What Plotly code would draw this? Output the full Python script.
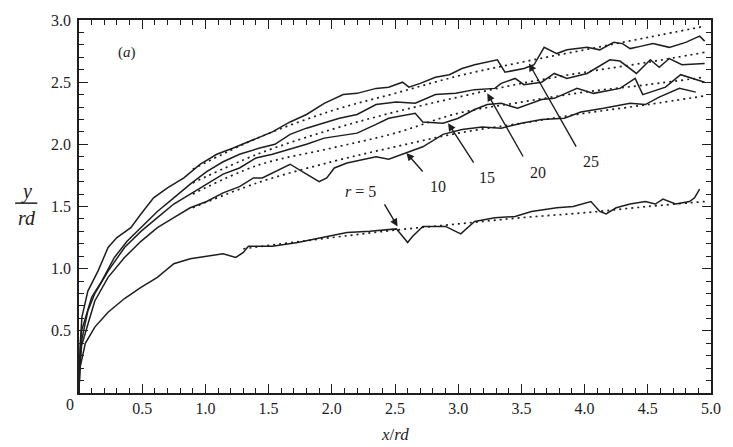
import plotly.graph_objects as go

INK = "#1e1e1e"
SERIF = "Liberation Serif"

# ---- solid (measured) trajectories ----
x25 = [0, 0.005, 0.01, 0.023, 0.07, 0.15, 0.23, 0.30, 0.41, 0.49, 0.59, 0.70, 0.83, 0.96, 1.09, 1.22, 1.38,
       1.53, 1.67, 1.80, 1.94, 2.09, 2.20, 2.35, 2.45, 2.56, 2.61, 2.70, 2.82, 2.93, 3.03, 3.13, 3.31, 3.37,
       3.52, 3.60, 3.68, 3.78, 3.86, 4.02, 4.12, 4.23, 4.30, 4.36, 4.45, 4.54, 4.67, 4.80, 4.91, 4.95]
y25 = [0, 0.26, 0.40, 0.61, 0.82, 0.98, 1.17, 1.25, 1.33, 1.44, 1.57, 1.65, 1.73, 1.84, 1.92, 1.97, 2.04,
       2.10, 2.18, 2.24, 2.33, 2.40, 2.41, 2.45, 2.46, 2.50, 2.46, 2.49, 2.54, 2.56, 2.61, 2.64, 2.68, 2.58,
       2.61, 2.64, 2.78, 2.73, 2.76, 2.78, 2.76, 2.82, 2.81, 2.77, 2.79, 2.81, 2.78, 2.82, 2.87, 2.83]

x20 = [0, 0.005, 0.01, 0.02, 0.10, 0.18, 0.28, 0.38, 0.49, 0.62, 0.75, 0.88, 1.01, 1.14, 1.27, 1.43, 1.55,
       1.67, 1.80, 1.94, 2.06, 2.20, 2.35, 2.51, 2.66, 2.82, 2.98, 3.13, 3.29, 3.34, 3.45, 3.52, 3.66, 3.76,
       3.86, 4.02, 4.20, 4.28, 4.41, 4.52, 4.59, 4.67, 4.77, 4.95]
y20 = [0, 0.22, 0.35, 0.50, 0.77, 0.90, 1.09, 1.22, 1.33, 1.46, 1.57, 1.68, 1.78, 1.86, 1.92, 1.97, 2.00,
       2.08, 2.13, 2.17, 2.21, 2.24, 2.32, 2.34, 2.33, 2.40, 2.41, 2.44, 2.45, 2.49, 2.53, 2.48, 2.50, 2.57,
       2.53, 2.57, 2.68, 2.67, 2.57, 2.68, 2.62, 2.69, 2.64, 2.65]

x15 = [0, 0.005, 0.02, 0.07, 0.125, 0.23, 0.36, 0.49, 0.62, 0.75, 0.88, 1.01, 1.14, 1.27, 1.40, 1.53, 1.67,
       1.80, 1.94, 2.06, 2.20, 2.35, 2.45, 2.66, 2.72, 2.88, 3.00, 3.13, 3.23, 3.34, 3.47, 3.66, 3.76, 3.94,
       4.07, 4.28, 4.40, 4.46, 4.64, 4.76, 4.85, 4.95]
y15 = [0, 0.20, 0.42, 0.66, 0.80, 0.98, 1.17, 1.30, 1.41, 1.52, 1.60, 1.68, 1.76, 1.81, 1.89, 1.92, 1.96,
       2.00, 2.05, 2.07, 2.09, 2.16, 2.21, 2.25, 2.18, 2.17, 2.21, 2.28, 2.32, 2.33, 2.29, 2.36, 2.37, 2.45,
       2.41, 2.45, 2.53, 2.40, 2.46, 2.56, 2.53, 2.50]

x10 = [0, 0.005, 0.02, 0.125, 0.23, 0.36, 0.49, 0.62, 0.75, 0.88, 1.01, 1.14, 1.27, 1.38, 1.45, 1.55, 1.67,
       1.80, 1.90, 1.96, 2.02, 2.12, 2.25, 2.35, 2.45, 2.61, 2.72, 2.88, 3.03, 3.19, 3.34, 3.50, 3.66, 3.84,
       3.97, 4.15, 4.36, 4.48, 4.59, 4.75, 4.88]
y10 = [0, 0.18, 0.38, 0.74, 0.93, 1.09, 1.22, 1.33, 1.41, 1.49, 1.54, 1.61, 1.66, 1.73, 1.73, 1.78, 1.84,
       1.76, 1.70, 1.73, 1.81, 1.85, 1.88, 1.90, 1.88, 1.94, 1.98, 2.08, 2.12, 2.14, 2.13, 2.17, 2.20, 2.21,
       2.26, 2.29, 2.33, 2.32, 2.38, 2.45, 2.42]

x5 = [0, 0.003, 0.05, 0.125, 0.23, 0.36, 0.49, 0.62, 0.75, 0.88, 1.01, 1.14, 1.24, 1.30, 1.34, 1.53, 1.73,
      1.98, 2.12, 2.30, 2.51, 2.56, 2.60, 2.64, 2.72, 2.90, 3.02, 3.13, 3.29, 3.45, 3.58, 3.78, 3.91, 4.05,
      4.12, 4.17, 4.25, 4.36, 4.48, 4.56, 4.62, 4.72, 4.83, 4.87, 4.91]
y5 = [0, 0.18, 0.40, 0.53, 0.65, 0.76, 0.85, 0.93, 1.04, 1.08, 1.10, 1.12, 1.09, 1.13, 1.18, 1.18, 1.21,
      1.26, 1.29, 1.30, 1.32, 1.26, 1.21, 1.26, 1.34, 1.34, 1.28, 1.38, 1.41, 1.42, 1.46, 1.49, 1.50, 1.54,
      1.46, 1.44, 1.49, 1.52, 1.54, 1.52, 1.56, 1.52, 1.54, 1.57, 1.64]

# ---- dotted (fitted) trajectories ----
xf = [0.9, 1.41, 2.0, 2.5, 3.0, 3.5, 4.0, 4.5, 4.95]
f25 = [1.80, 2.05, 2.27, 2.41, 2.55, 2.66, 2.76, 2.86, 2.95]
f20 = [1.69, 1.92, 2.12, 2.26, 2.38, 2.49, 2.58, 2.66, 2.74]
f15 = [1.60, 1.83, 1.97, 2.09, 2.25, 2.34, 2.42, 2.48, 2.54]
f10 = [1.49, 1.69, 1.86, 1.98, 2.09, 2.17, 2.25, 2.32, 2.39]
xf5 = [1.3, 2.0, 2.5, 3.0, 3.5, 4.0, 4.5, 4.95]
f5 = [1.16, 1.25, 1.31, 1.36, 1.41, 1.45, 1.50, 1.54]

# ---- curve labels (text, tail point, arrow tip) ----
lab_text = ["<i>r</i> = 5", "10", "15", "20", "25"]
lab_x = [2.23, 2.84, 3.23, 3.63, 4.05]
lab_y = [1.62, 1.66, 1.73, 1.77, 1.86]
tail_x = [2.41, 2.73, 3.13, 3.52, 3.94]
tail_y = [1.53, 1.77, 1.84, 1.89, 1.97]
tip_x = [2.52, 2.59, 2.92, 3.23, 3.56]
tip_y = [1.34, 1.93, 2.17, 2.41, 2.65]

xticks = [0.5, 1.0, 1.5, 2.0, 2.5, 3.0, 3.5, 4.0, 4.5, 5.0]
yticks = [0.5, 1.0, 1.5, 2.0, 2.5, 3.0]

fig = go.Figure()
for xs, ys in [(x25, y25), (x20, y20), (x15, y15), (x10, y10), (x5, y5)]:
    fig.add_trace(go.Scatter(x=xs, y=ys, mode="lines", line=dict(color=INK, width=1.5),
                             showlegend=False, hoverinfo="skip"))
for xs, ys in [(xf, f25), (xf, f20), (xf, f15), (xf, f10), (xf5, f5)]:
    fig.add_trace(go.Scatter(x=xs, y=ys, mode="lines", line=dict(color=INK, width=1.7, dash="2px,4px"),
                             line_shape="spline", showlegend=False, hoverinfo="skip"))

def txt(x, y, t, size, xref="x", yref="y"):
    fig.add_annotation(x=x, y=y, xref=xref, yref=yref, text=t, showarrow=False,
                       xanchor="center", yanchor="middle",
                       font=dict(family=SERIF, size=size, color=INK))

for t, lx, ly in zip(lab_text, lab_x, lab_y):
    txt(lx, ly, t, 16)
for ax_, ay_, tx, ty in zip(tail_x, tail_y, tip_x, tip_y):
    fig.add_annotation(x=tx, y=ty, ax=ax_, ay=ay_, axref="x", ayref="y", text="",
                       showarrow=True, arrowhead=2, arrowsize=1.1, arrowwidth=1.4, arrowcolor=INK)

txt(0.38, 2.74, "(<i>a</i>)", 15)
txt(-0.014, -0.032, "0", 16, "paper", "paper")
# y-axis title as a fraction
txt(-0.083, 0.54, "<i>y</i>", 20, "paper", "paper")
txt(-0.083, 0.468, "<i>rd</i>", 20, "paper", "paper")
fig.add_shape(type="line", xref="paper", yref="paper", x0=-0.101, x1=-0.066, y0=0.509, y1=0.509,
              line=dict(color=INK, width=1.5))
txt(0.5, -0.112, "<i>x</i>/<i>rd</i>", 17, "paper", "paper")

minor_x = [i / 10 for i in range(1, 50) if i % 5]
minor_y = [i / 10 for i in range(1, 30) if i % 5]

common = dict(showline=True, mirror="ticks", linecolor=INK, linewidth=1.5, ticks="inside",
              ticklen=9, tickwidth=1.3, tickcolor=INK, showgrid=False, zeroline=False,
              tickfont=dict(family=SERIF, size=16, color=INK))
fig.update_xaxes(range=[0, 5], tickmode="array", tickvals=xticks,
                 ticktext=[f"{v:.1f}" for v in xticks],
                 minor=dict(tickmode="array", tickvals=minor_x, ticks="inside", ticklen=5,
                            tickwidth=1, tickcolor=INK), **common)
fig.update_yaxes(range=[0, 3], tickmode="array", tickvals=yticks,
                 ticktext=[f"{v:.1f}" for v in yticks], ticklabelstandoff=3,
                 minor=dict(tickmode="array", tickvals=minor_y, ticks="inside", ticklen=5,
                            tickwidth=1, tickcolor=INK), **common)
fig.update_layout(width=733, height=447, margin=dict(l=79, r=15, t=18, b=54),
                  paper_bgcolor="white", plot_bgcolor="white")
fig.write_html("out.html")
